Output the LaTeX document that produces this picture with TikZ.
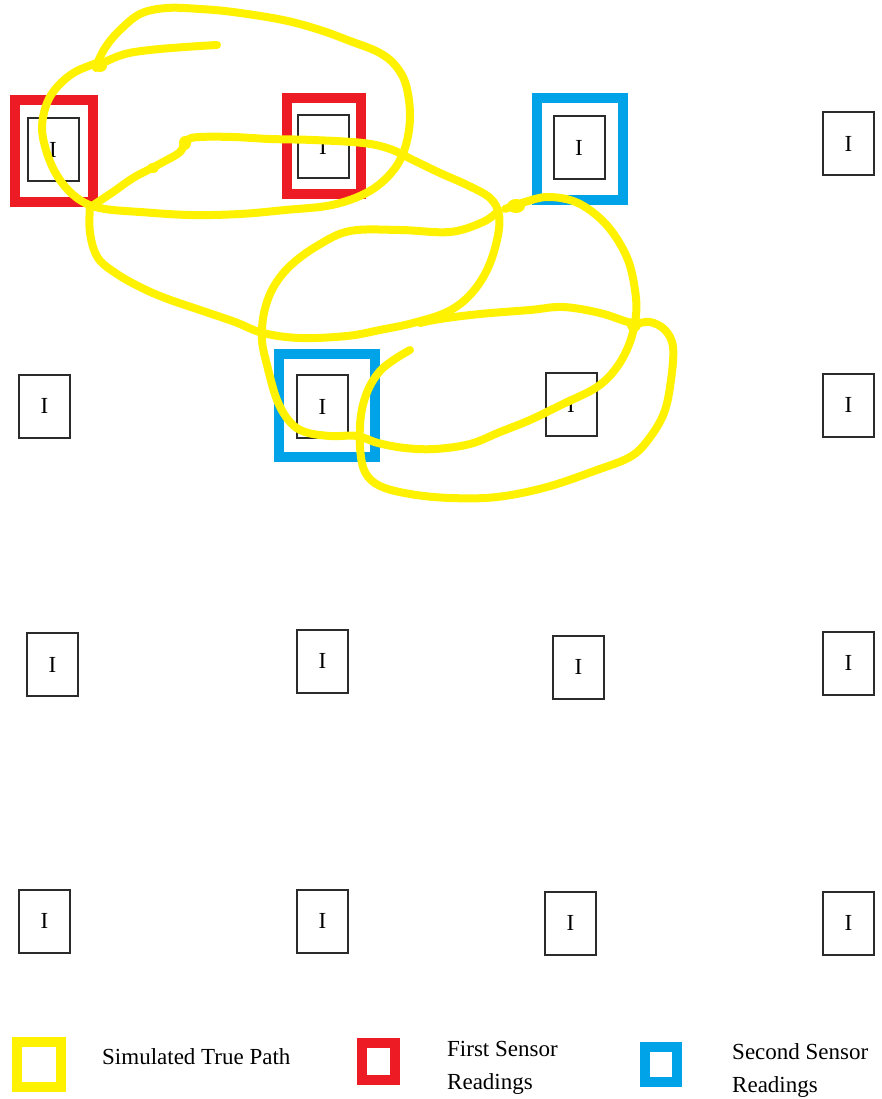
\documentclass[tikz,border=0pt]{standalone}
\usepackage{fontspec}
\setmainfont{Liberation Serif}
\definecolor{pyellow}{HTML}{FFF200}
\definecolor{pred}{HTML}{ED1C24}
\definecolor{pblue}{HTML}{00A2E8}
\definecolor{cellgray}{HTML}{2B2B2B}
\begin{document}
\begin{tikzpicture}[x=1pt,y=-1pt,
  cell/.style={draw=cellgray, line width=2pt, minimum width=51pt, minimum height=63pt,
    inner sep=0pt, font=\fontsize{23}{23}\selectfont},
  frame/.style={line width=10pt, inner sep=0pt},
  redframe/.style={frame, draw=pred},
  blueframe/.style={frame, draw=pblue},
  yellowframe/.style={frame, draw=pyellow},
  truepath/.style={draw=pyellow, line width=8pt, line cap=round, line join=round},
  blob/.style={fill=pyellow},
  legtext/.style={inner sep=0pt, align=left, font=\fontsize{23}{33}\selectfont}
]
\useasboundingbox (0,0) rectangle (882,1099);

% sensor frames
\node[redframe, minimum width=78pt, minimum height=102pt] (r1) at (54,151) {};
\node[redframe, minimum width=74pt, minimum height=96pt] (r2) at (324,146) {};
\node[blueframe, minimum width=86pt, minimum height=102pt] (b1) at (580,149) {};
\node[blueframe, minimum width=96pt, minimum height=103pt] (b2) at (327,405.5) {};

% grid of cells
\node[cell] (c11) at (53,150) {I};
\node[cell] (c12) at (323,146.5) {I};
\node[cell] (c13) at (579,148) {I};
\node[cell] (c14) at (848.5,144) {I};
\node[cell] (c21) at (44.5,406) {I};
\node[cell] (c22) at (322.5,406.5) {I};
\node[cell] (c23) at (571,404.5) {I};
\node[cell] (c24) at (848.5,405) {I};
\node[cell] (c31) at (52.5,664.5) {I};
\node[cell] (c32) at (322.5,661) {I};
\node[cell] (c33) at (578.5,667) {I};
\node[cell] (c34) at (848.5,663) {I};
\node[cell] (c41) at (44.5,921) {I};
\node[cell] (c42) at (322.5,921) {I};
\node[cell] (c43) at (570.5,923) {I};
\node[cell] (c44) at (848.5,923) {I};

% simulated true path (hand drawn)
\draw[truepath] plot[smooth, tension=0.6] coordinates {(217,45) (185,47) (150,50) (125,54) (105,62) (96,68)};
\draw[truepath] plot[smooth, tension=0.6] coordinates {(97,64) (105,48) (118,32) (140,14) (167,8) (200,9) (233,12) (283,20) (320,30) (350,41) (378,52) (395,65) (406,85) (410,117) (405,148) (392,172) (368,192) (332,205) (285,210) (240,214) (190,215) (140,212) (105,209) (85,203) (68,190) (55,172) (46,150) (42,127) (47,103) (58,86) (75,72) (97,63)};
\draw[truepath] plot[smooth, tension=0.6] coordinates {(90,205) (90,233) (98,258) (117,274) (140,287) (165,298) (200,310) (235,322) (263,333) (300,338) (347,336) (380,330) (413,323) (447,312) (470,295) (487,270) (497,240) (499,215) (490,198) (467,185) (440,173) (413,160) (390,149) (363,143) (313,140) (270,139) (233,137) (200,137) (187,140) (180,152) (165,161) (150,169) (133,178) (113,192) (95,204)};
\draw[truepath] plot[smooth, tension=0.6] coordinates {(497,212) (483,222) (450,232) (400,230) (350,231) (317,246) (290,266) (273,288) (264,313) (262,340) (267,365) (277,400) (290,422) (305,432) (330,436) (357,436) (378,443) (405,448) (435,449) (470,444) (500,432) (530,420) (563,404) (597,387) (617,367) (630,342) (636,315) (635,290) (628,260) (613,233) (595,214) (573,201) (547,197) (525,202) (505,209)};
\draw[truepath] plot[smooth, tension=0.6] coordinates {(410,350) (395,359) (380,371) (368,390) (361,415) (360,447) (365,472) (380,486) (410,494) (450,498) (497,497) (547,487) (597,470) (630,457) (648,440) (664,413) (671,380) (673,347) (665,330) (650,322) (632,323) (600,313) (563,307) (530,310) (480,314) (440,319) (420,323)};
\fill[blob] (100,66) ellipse (7pt and 6pt);
\fill[blob] (185,143) ellipse (6pt and 7pt);
\fill[blob] (153,168) ellipse (6pt and 5pt);
\fill[blob] (516,206) ellipse (9pt and 7pt);
\fill[blob] (634,325) ellipse (7pt and 7pt);

% legend
\node[yellowframe, minimum width=44pt, minimum height=45pt] (ly) at (39,1064.5) {};
\node[legtext, anchor=base west] (t1) at (102,1064) {Simulated True Path};
\node[redframe, minimum width=33pt, minimum height=37pt] (lr) at (378.5,1061.5) {};
\node[legtext, anchor=north west] (t2) at (447,1041) {First Sensor\\Readings};
\node[blueframe, minimum width=32pt, minimum height=35pt] (lb) at (661,1064.5) {};
\node[legtext, anchor=north west] (t3) at (732,1043.5) {Second Sensor\\Readings};
\end{tikzpicture}
\end{document}
